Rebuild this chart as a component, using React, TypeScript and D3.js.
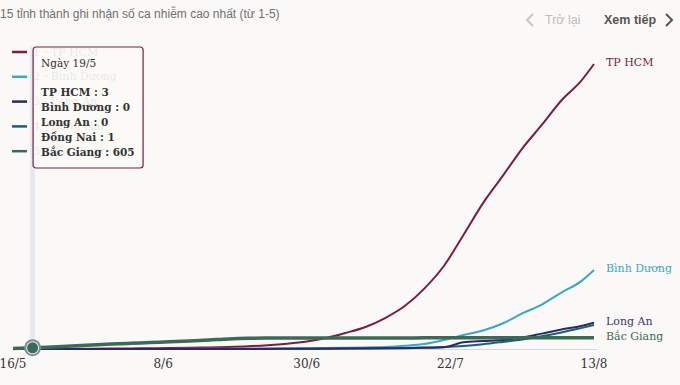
import React from 'react';
import * as d3 from 'd3';

// ngày (3 ngày một mốc) từ 16/5 đến 13/8/2021
const dates = [
  '16/5', '19/5', '22/5', '25/5', '28/5', '31/5', '3/6', '6/6', '9/6', '12/6', '15/6',
  '18/6', '21/6', '24/6', '27/6', '30/6', '3/7', '6/7', '9/7', '12/7', '15/7', '18/7',
  '21/7', '24/7', '27/7', '30/7', '2/8', '5/8', '8/8', '11/8', '13/8',
];
const tickLabels = ['16/5', '8/6', '30/6', '22/7', '13/8'];
const seriesNames = ['TP HCM', 'Bình Dương', 'Long An', 'Đồng Nai', 'Bắc Giang'];

const hcm = [
  0, 3, 30, 80, 130, 200, 300, 400, 500, 650, 850, 1100, 1450, 2000, 2800, 3950,
  5800, 8500, 11600, 16300, 22600, 31800, 43700, 60000, 76800, 91000, 105500, 117900,
  130800, 141000, 150000,
];
const binhDuong = [
  0, 0, 0, 2, 5, 10, 20, 40, 60, 80, 100, 130, 170, 230, 300, 400, 500, 650, 850,
  1100, 1700, 2600, 4700, 7400, 9700, 13400, 18700, 23400, 29700, 35600, 41600,
];
const longAn = [
  0, 0, 0, 0, 0, 0, 1, 2, 3, 5, 10, 20, 30, 50, 80, 120, 160, 220, 280, 350, 450,
  600, 900, 3500, 4200, 4700, 6000, 8100, 10300, 12100, 13800,
];
const dongNai = [
  0, 1, 2, 3, 5, 8, 10, 15, 20, 30, 40, 60, 80, 100, 130, 170, 220, 280, 350, 430,
  550, 750, 1050, 1600, 2500, 3700, 5000, 6700, 8700, 11000, 12600,
];
const bacGiang = [
  300, 605, 1100, 1600, 2100, 2600, 3000, 3400, 3800, 4200, 4700, 5300, 5650, 5750,
  5780, 5800, 5810, 5820, 5830, 5840, 5850, 5860, 5870, 5875, 5880, 5885, 5890, 5892,
  5895, 5898, 5900,
];
const seriesValues = [hcm, binhDuong, longAn, dongNai, bacGiang];
const colors = ['#7b1d42', '#3aa7c6', '#2e2966', '#1c5f78', '#3b6a56'];
const labelColors = ['#7b1d42', '#3aa7c6', '#3b3870', '#1c5f78', '#3b6a56'];
const drawOrder = [0, 1, 3, 2, 4];
const hoverDate = '19/5';
const hoverSeries = 4;

const W = 680;
const H = 385;
const serif = '"DejaVu Serif", serif';
const sans = '"Liberation Sans", Arial, sans-serif';

const parse = (s: string) => {
  const [d, m] = s.split('/').map(Number);
  return new Date(2021, m - 1, d);
};

export default function App() {
  const x = d3
    .scaleTime()
    .domain([parse(dates[0]), parse(dates[dates.length - 1])])
    .range([13, 594]);
  const y = d3.scaleLinear().domain([0, 150000]).range([349, 64]);

  const line = d3
    .line<number>()
    .x((_, i) => x(parse(dates[i])))
    .y(v => y(v))
    .curve(d3.curveMonotoneX);

  // nhãn cuối đường, bỏ những nhãn bị chồng
  const placed: number[] = [];
  const endLabels = seriesNames
    .map((name, i) => {
      const v = seriesValues[i][seriesValues[i].length - 1];
      return { name, i, y: y(v) };
    })
    .filter(l => {
      if (placed.some(p => Math.abs(p - l.y) < 12)) return false;
      placed.push(l.y);
      return true;
    });

  const hi = dates.indexOf(hoverDate);
  const hx = x(parse(hoverDate));
  const hy = y(seriesValues[hoverSeries][hi]);

  return (
    <div style={{ position: 'absolute', left: 0, top: 0, width: W, height: H, background: '#faf9f7' }}>
      <svg width={W} height={H} style={{ display: 'block' }}>
        <text x={0} y={18} fontFamily={sans} fontSize={12} fill="#707070">
          15 tỉnh thành ghi nhận số ca nhiễm cao nhất (từ 1-5)
        </text>

        <polyline points="533,14 527,20 533,26" fill="none" stroke="#c8c8c8" strokeWidth={2} />
        <text x={545} y={24} fontFamily={sans} fontSize={12.5} fill="#bbb">Trở lại</text>
        <text x={604} y={24} fontFamily={sans} fontSize={12.5} fontWeight="bold" fill="#555">Xem tiếp</text>
        <polyline points="666,14 672,20 666,26" fill="none" stroke="#555" strokeWidth={2} />

        {/* chú thích */}
        {seriesNames.map((name, i) => (
          <g key={name} transform={`translate(0, ${52 + i * 24.8})`}>
            <line x1={12} x2={27} stroke={colors[i]} strokeWidth={2.5} />
            <text x={33} y={3.5} fontFamily={serif} fontSize={11} fill="#666">
              {i + 1} - {name}
            </text>
          </g>
        ))}

        {/* đường hover */}
        <line x1={hx} x2={hx} y1={47} y2={349} stroke="#e6e9ed" strokeWidth={5} />

        <line x1={x.range()[0]} x2={x.range()[1] + 3} y1={349.5} y2={349.5} stroke="#cfd8e3" strokeWidth={1} />

        {drawOrder.map(i => (
          <path
            key={i}
            d={line(seriesValues[i]) || ''}
            fill="none"
            stroke={colors[i]}
            strokeWidth={i === hoverSeries ? 3.5 : 2}
            strokeLinejoin="round"
          />
        ))}

        {tickLabels.map(t => (
          <text key={t} x={x(parse(t))} y={368} textAnchor="middle" fontFamily={serif} fontSize={12} fill="#333">
            {t}
          </text>
        ))}

        {endLabels.map(l => (
          <text key={l.name} x={606} y={l.y - 2} dy="0.35em" fontFamily={serif} fontSize={11} fill={labelColors[l.i]}>
            {l.name}
          </text>
        ))}

        {/* điểm đang chọn */}
        <circle cx={hx} cy={hy} r={8.5} fill="#7d8b96" />
        <circle cx={hx} cy={hy} r={6.5} fill="#e3e8ec" />
        <circle cx={hx} cy={hy} r={5.5} fill={colors[hoverSeries]} />

        {/* tooltip */}
        <g transform={`translate(${hx + 0.5}, 47)`}>
          <rect width={110} height={121} rx={3} fill="rgba(250,249,247,0.88)" stroke="#7b1d42" strokeWidth={1.2} />
          <text x={8} y={20} fontFamily={serif} fontSize={10.5} fill="#333">
            Ngày {hoverDate}
          </text>
          {seriesNames.map((name, i) => (
            <text key={name} x={8} y={49 + i * 15} fontFamily={serif} fontSize={10.5} fontWeight="bold" fill="#333">
              {name} : {seriesValues[i][hi]}
            </text>
          ))}
        </g>
      </svg>
    </div>
  );
}
